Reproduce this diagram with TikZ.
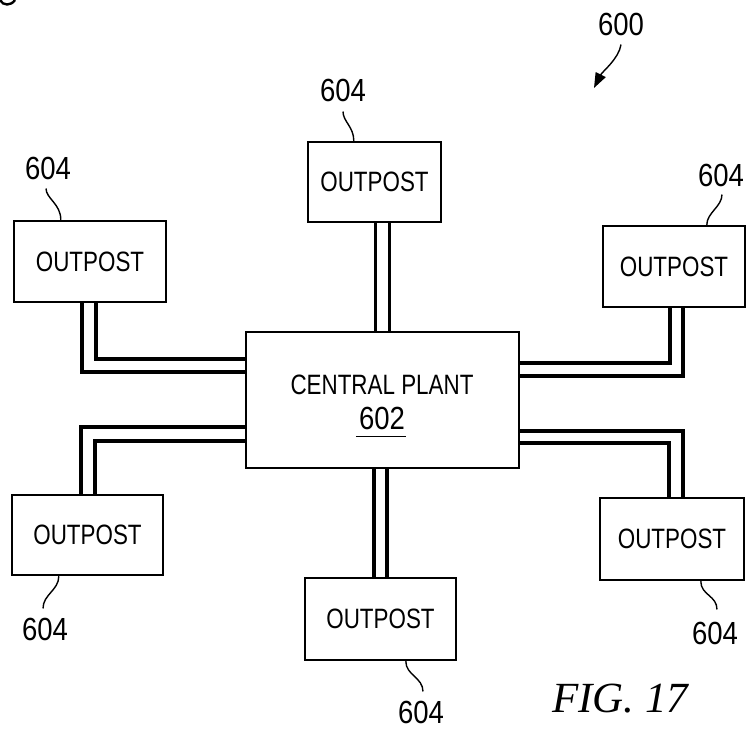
\documentclass[tikz,border=0pt]{standalone}
\usepackage{fontspec}
\setmainfont{Liberation Sans}
\newfontfamily\boxfont[FakeStretch=0.8]{Liberation Sans}
\newfontfamily\numfont[FakeStretch=0.86]{Liberation Sans}
\newfontfamily\figfont{Liberation Serif}
\usetikzlibrary{calc,arrows.meta}
\begin{document}
\begin{tikzpicture}[x=1pt,y=-1pt,
  box/.style={draw,line width=2.4pt,inner sep=0pt,font=\boxfont\fontsize{28}{30}\selectfont},
  pipe/.style={line width=3.2pt},
  lead/.style={line width=1.4pt},
  num/.style={inner sep=0pt,font=\numfont\fontsize{32}{34}\selectfont}]
\useasboundingbox (0,0) rectangle (747,731);

% stray fragment at the top-left corner
\draw[line width=2.4pt] (0,0) .. controls (3,6) and (11,6) .. (15,0);

% boxes
\node[box,minimum width=152pt,minimum height=81pt] (tl) at (90,261.5) {OUTPOST};
\node[box,minimum width=133pt,minimum height=80pt] (t) at (374.5,182) {OUTPOST};
\node[box,minimum width=142pt,minimum height=81pt] (tr) at (674,266.5) {OUTPOST};
\node[box,minimum width=273pt,minimum height=136pt] (c) at (382.5,400) {};
\node[box,minimum width=151pt,minimum height=80pt] (bl) at (87.5,535) {OUTPOST};
\node[box,minimum width=151pt,minimum height=82pt] (b) at (380.5,619) {OUTPOST};
\node[box,minimum width=144pt,minimum height=82pt] (br) at (672,539) {OUTPOST};

\node[inner sep=0pt,font=\boxfont\fontsize{28}{30}\selectfont] (cl) at (382,384.5) {CENTRAL PLANT};
\node[num] (cn) at (382,418.5) {602};
\draw[line width=1.5pt] ($(cn.base west)+(-3,7)$) -- ($(cn.base east)+(1,7)$);

% pipes
\draw[pipe] ([xshift=-8pt]tl.south) |- ([yshift=28pt]c.west);
\draw[pipe] ([xshift=6pt]tl.south) |- ([yshift=41pt]c.west);
\path (t.south) ++(1,0) coordinate (t1) ++(14,0) coordinate (t2);
\draw[pipe] (t1) -- (t1 |- c.north);
\draw[pipe] (t2) -- (t2 |- c.north);
\draw[pipe] ([xshift=-4pt]tr.south) |- ([yshift=37pt]c.east);
\draw[pipe] ([xshift=9pt]tr.south) |- ([yshift=24pt]c.east);
\draw[pipe] ([xshift=-6.5pt]bl.north) |- ([yshift=-27pt]c.west);
\draw[pipe] ([xshift=7.5pt]bl.north) |- ([yshift=-41pt]c.west);
\path (b.north) ++(-6.5,0) coordinate (b1) ++(13,0) coordinate (b2);
\draw[pipe] (b1) -- (b1 |- c.south);
\draw[pipe] (b2) -- (b2 |- c.south);
\draw[pipe] ([xshift=11pt]br.north) |- ([yshift=-31pt]c.east);
\draw[pipe] ([xshift=-3pt]br.north) |- ([yshift=-43pt]c.east);

% reference labels
\node[num] (ltl) at (48,168) {604};
\node[num] (lt) at (343,90) {604};
\node[num] (ltr) at (721,175) {604};
\node[num] (lbl) at (45,629) {604};
\node[num] (lb) at (421,712) {604};
\node[num] (lbr) at (715,633) {604};
\node[num] (l600) at (621,24) {600};

\coordinate (ptl) at ($(tl.north west)+(48,0)$);
\draw[lead] ($(ltl.south)+(-2,9)$) .. controls +(0,10) and +(0,-16) .. (ptl);
\coordinate (pt) at ($(t.north west)+(47,0)$);
\draw[lead] ($(lt.south)+(0,10)$) .. controls +(0,10) and +(0,-14) .. (pt);
\coordinate (ptr) at ($(tr.north west)+(105,0)$);
\draw[lead] ($(ltr.south)+(1,8)$) .. controls +(0,12) and +(0,-12) .. (ptr);
\coordinate (pbl) at ($(bl.south west)+(48,0)$);
\draw[lead] (pbl) .. controls +(0,14) and +(0,-14) .. ($(lbl.north)+(-2,-9)$);
\coordinate (pb) at ($(b.south west)+(102,0)$);
\draw[lead] (pb) .. controls +(0,14) and +(0,-14) .. ($(lb.north)+(2,-9)$);
\coordinate (pbr) at ($(br.south west)+(102,0)$);
\draw[lead] (pbr) .. controls +(0,14) and +(0,-14) .. ($(lbr.north)+(2,-12)$);

\coordinate (a600) at (594,88);
\draw[lead,-{Triangle[length=15pt,width=11pt]}] ($(l600.south)+(0,9)$) .. controls +(-2,14) and +(8,-16) .. (a600);

\node[inner sep=0pt,anchor=base west,font=\figfont\itshape\fontsize{43}{45}\selectfont] (fig) at (552,712) {FIG. 17};
\end{tikzpicture}
\end{document}
